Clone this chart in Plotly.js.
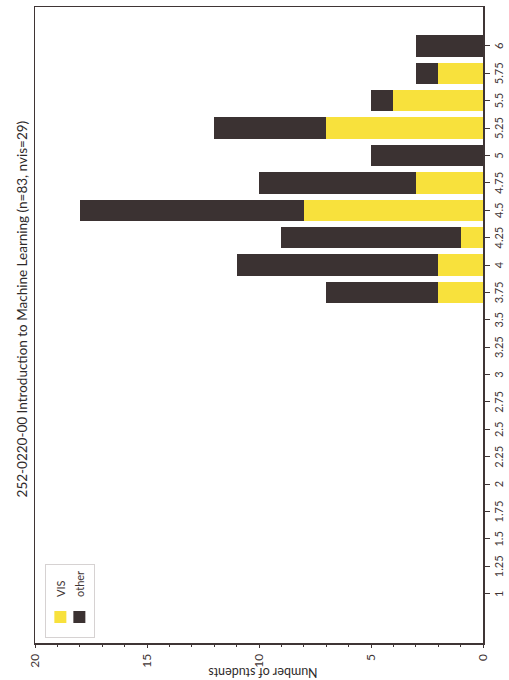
<!DOCTYPE html>
<html>
<head>
<meta charset="utf-8">
<script src="https://cdn.plot.ly/plotly-3.0.1.min.js"></script>
<style>
  html, body { margin: 0; padding: 0; width: 509px; height: 680px; overflow: hidden; background: #ffffff; }
  #wrap { position: absolute; left: 0; top: 0; width: 680px; height: 509px;
          transform-origin: 0 0; transform: translate(0px, 680px) rotate(-90deg); }
  #chart { width: 680px; height: 509px; }
</style>
</head>
<body>
<div id="wrap"><div id="chart"></div></div>
<script>
// Grade categories (stacked bars)
const grades = [3.75, 4, 4.25, 4.5, 4.75, 5, 5.25, 5.5, 5.75, 6];
const visCounts = [2, 2, 1, 8, 3, 0, 7, 4, 2, 0];
const otherCounts = [5, 9, 8, 10, 7, 5, 5, 1, 1, 3];
// Tick labels of the grade axis
const gradeTicks = [1, 1.25, 1.5, 1.75, 2, 2.25, 2.5, 2.75, 3, 3.25, 3.5, 3.75, 4, 4.25, 4.5, 4.75, 5, 5.25, 5.5, 5.75, 6];
const gradeTickText = ["1", "1.25", "1.5", "1.75", "2", "2.25", "2.5", "2.75", "3", "3.25", "3.5", "3.75", "4", "4.25", "4.5", "4.75", "5", "5.25", "5.5", "5.75", "6"];
const seriesNames = ["VIS", "other"];
const titleText = "252-0220-00 Introduction to Machine Learning (n=83, nvis=29)";
const yTitle = "Number of students";

const FONT = "Lato, 'Liberation Sans Narrow', 'Liberation Sans', sans-serif";
const INK = "#3f3535";

const traces = [
  { type: "bar", name: seriesNames[0], x: grades, y: visCounts, width: 0.195,
    marker: { color: "#f8e13c", line: { width: 0 } } },
  { type: "bar", name: seriesNames[1], x: grades, y: otherCounts, width: 0.195,
    marker: { color: "#3b3232", line: { width: 0 } } }
];

const layout = {
  width: 680, height: 509,
  margin: { l: 37, r: 7, t: 35, b: 26 },
  paper_bgcolor: "#ffffff", plot_bgcolor: "#ffffff",
  barmode: "stack",
  font: { family: FONT, color: INK, size: 12 },
  title: { text: titleText, font: { family: FONT, size: 13.5, color: "#2e2a2a" },
           x: 0.525, xref: "paper", xanchor: "center", y: 0.957, yref: "container", yanchor: "middle" },
  showlegend: true,
  legend: { x: 0.008, y: 0.978, xanchor: "left", yanchor: "top", traceorder: "normal",
            bgcolor: "#ffffff", bordercolor: "#d6d2d2", borderwidth: 1,
            font: { family: FONT, size: 11, color: INK } },
  xaxis: {
    range: [0.55, 6.355], tickmode: "array", tickvals: gradeTicks, ticktext: gradeTickText,
    ticks: "outside", ticklen: 5, tickwidth: 1, tickcolor: INK,
    showline: true, linecolor: INK, linewidth: 1.5, mirror: true,
    showgrid: false, zeroline: false, tickangle: 0,
    tickfont: { family: FONT, size: 11, color: INK }
  },
  yaxis: {
    range: [0, 20], dtick: 5, tick0: 0,
    ticks: "outside", ticklen: 3, tickwidth: 1, tickcolor: INK,
    minor: { dtick: 1, ticks: "outside", ticklen: 2, tickcolor: INK },
    showline: true, linecolor: INK, linewidth: 1.5, mirror: true,
    showgrid: false, zeroline: false, ticklabelstandoff: 4,
    tickfont: { family: FONT, size: 12, color: INK }
  },
  annotations: [
    { text: yTitle, xref: "paper", yref: "paper", x: -0.047, y: 0.49,
      xanchor: "center", yanchor: "middle", textangle: -90, showarrow: false,
      font: { family: FONT, size: 12.5, color: "#2e2a2a" } }
  ]
};

Plotly.newPlot("chart", traces, layout, { displayModeBar: false, staticPlot: true });
</script>
</body>
</html>
